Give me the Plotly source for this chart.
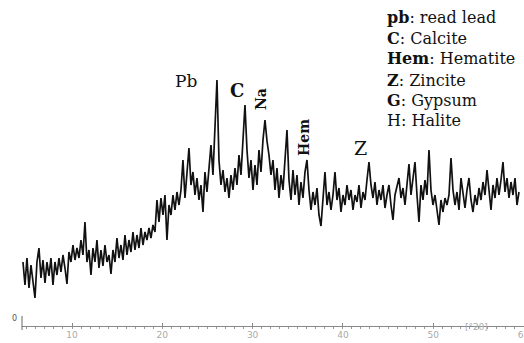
import numpy as np
import plotly.graph_objects as go

two_theta_start = 4.57
two_theta_end = 59.5
intensity = [
    640, 410, 680, 380, 610, 440, 280, 640, 780, 480,
    660, 430, 640, 500, 680, 410, 640, 510, 680, 540,
    710, 580, 420, 740, 640, 810, 660, 780, 680, 860,
    710, 1040, 640, 760, 510, 780, 640, 860, 580, 760,
    600, 810, 640, 710, 520, 760, 640, 880, 680, 810,
    660, 910, 710, 860, 740, 940, 760, 910, 780, 980,
    810, 940, 860, 980, 880, 1010, 940, 1260, 1040, 1280,
    1110, 1310, 860, 1210, 1110, 1310, 1160, 1340, 1210, 1360,
    1660, 1280, 1560, 1780, 1410, 1540, 1310, 1480, 1260, 1410,
    1140, 1540, 1340, 1580, 1810, 1510, 1960, 2460, 1660, 1410,
    1560, 1340, 1480, 1280, 1510, 1360, 1580, 1410, 1710, 1510,
    1860, 2210, 1760, 1480, 1660, 1360, 1610, 1410, 1760, 1540,
    1860, 2060, 1850, 1710, 1510, 1660, 1360, 1580, 1280, 1510,
    1360, 1660, 1960, 1460, 1260, 1560, 1310, 1510, 1210, 1440,
    1280, 1540, 1660, 1360, 1160, 1340, 1210, 1380, 1110, 1000,
    1310, 1540, 1210, 1340, 1160, 1310, 1540, 1260, 1380, 1140,
    1310, 1210, 1410, 1260, 1360, 1160, 1310, 1240, 1410, 1180,
    1340, 1260, 1460, 1640, 1410, 1280, 1440, 1210, 1360, 1260,
    1410, 1180, 1310, 1410, 1210, 1060, 1310, 1410, 1480, 1280,
    1380, 1210, 1460, 1620, 1310, 1460, 1640, 1310, 1040, 1410,
    1260, 1460, 1310, 1760, 1360, 1210, 1310, 1160, 1010, 1260,
    1140, 1280, 1210, 1310, 1680, 1360, 1210, 1340, 1160, 1480,
    1310, 1180, 1360, 1480, 1260, 1140, 1310, 1210, 1380, 1260,
    1440, 1310, 1560, 1360, 1160, 1410, 1280, 1480, 1310, 1460,
    1640, 1340, 1480, 1280, 1440, 1310, 1480, 1210, 1340,
]
two_theta = np.linspace(two_theta_start, two_theta_end, len(intensity))

x_ticks = [10, 20, 30, 40, 50, 60]

# phase labels at peaks
peak_labels = ["Pb", "<b>C</b>", "<b>Na</b>", "<b>Hem</b>", "Z"]
peak_x = [22.62, 28.27, 30.93, 35.69, 42.0]
peak_y = [2450, 2360, 2270, 1890, 1780]
peak_angle = [0, 0, -90, -90, 0]
peak_size = [17, 18, 14, 14, 19]

key_lines = [
    "<b>pb</b>: read lead",
    "<b>C</b>: Calcite",
    "<b>Hem</b>: Hematite",
    "<b>Z</b>: Zincite",
    "<b>G</b>: Gypsum",
    "H: Halite",
]

W, H = 524, 343
L, R, T, B = 22, 0, 0, 17
PH = H - B - T
PW = W - L - R

fig = go.Figure()
fig.add_trace(go.Scatter(
    x=two_theta, y=intensity, mode="lines",
    line=dict(color="#111111", width=1.7),
    hoverinfo="skip", showlegend=False,
))

serif = "DejaVu Serif, Liberation Serif, serif"
ann = []
for t, x, y, a, s in zip(peak_labels, peak_x, peak_y, peak_angle, peak_size):
    ann.append(dict(x=x, y=y, xref="x", yref="y", text=t, showarrow=False,
                    textangle=a, font=dict(family=serif, size=s, color="#111")))

key_py = [17, 38, 59, 80, 100, 121]
for t, py in zip(key_lines, key_py):
    ann.append(dict(x=(385 - L) / PW, y=(H - B - py) / PH,
                    xref="paper", yref="paper", xanchor="left", yanchor="middle",
                    text=t, showarrow=False,
                    font=dict(family=serif, size=16, color="#111")))

ann.append(dict(x=54.74, y=-8 / PH, xref="x", yref="paper",
                text="[°2θ]", showarrow=False,
                font=dict(family="DejaVu Sans", size=9, color="#aaaaaa")))
# y-axis zero label
ann.append(dict(x=-12 / PW, y=1 / PH, xref="paper", yref="paper",
                text="0", showarrow=False,
                font=dict(family="DejaVu Sans", size=8, color="#555")))

fig.update_layout(
    width=W, height=H,
    margin=dict(l=L, r=R, t=T, b=B, pad=0, autoexpand=False),
    paper_bgcolor="white", plot_bgcolor="white",
    annotations=ann,
    xaxis=dict(range=[4.463, 60.055], tickvals=x_ticks, ticks="inside",
               ticklen=3, tickcolor="#888", showline=True, linecolor="#888",
               linewidth=1, showgrid=False, zeroline=False, automargin=False,
               ticklabeloverflow="allow",
               tickfont=dict(family="DejaVu Sans", size=9, color="#aaaaaa"),
               minor=dict(dtick=1, ticks="outside", ticklen=2, tickcolor="#999")),
    yaxis=dict(range=[0, 3260], showticklabels=False, ticks="",
               showline=False, showgrid=False, zeroline=False, automargin=False),
    shapes=[dict(type="line", xref="paper", yref="paper", x0=0, x1=0,
                 y0=-4 / PH, y1=10 / PH,
                 line=dict(color="#666", width=1))],
)

fig.write_html("out.html", config={"displayModeBar": False},
               post_script="document.body.style.margin='0';document.body.style.overflow='hidden';")
